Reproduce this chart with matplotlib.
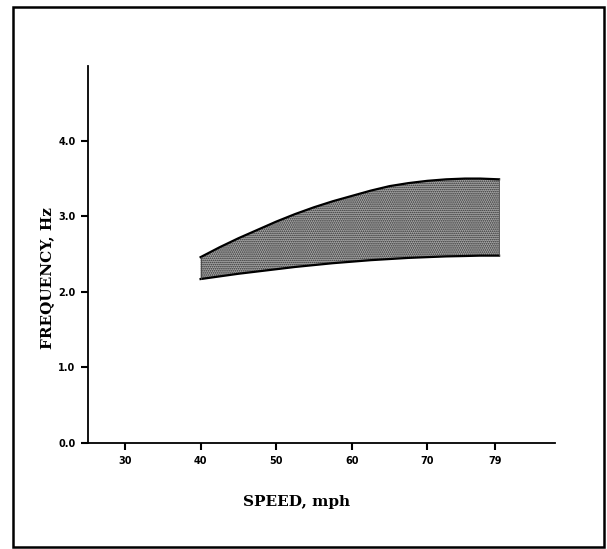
import matplotlib
matplotlib.use("Agg")
import matplotlib.pyplot as plt
from matplotlib.patches import Rectangle

# Band of observed frequency versus speed
speed = [40, 42.5, 45, 47.5, 50, 52.5, 55, 57.5, 60, 62.5, 65, 67.5, 70, 72.5, 75, 77, 79.5]
freq_upper = [2.46, 2.59, 2.71, 2.82, 2.93, 3.03, 3.12, 3.20, 3.27, 3.34, 3.40, 3.44, 3.47, 3.49, 3.50, 3.50, 3.49]
freq_lower = [2.17, 2.205, 2.24, 2.27, 2.30, 2.33, 2.355, 2.38, 2.40, 2.42, 2.435, 2.45, 2.46, 2.47, 2.475, 2.48, 2.48]

x_ticks = [30, 40, 50, 60, 70, 79]
x_tick_labels = ["30", "40", "50", "60", "70", "79"]
y_ticks = [0.0, 1.0, 2.0, 3.0, 4.0]
y_tick_labels = ["0.0", "1.0", "2.0", "3.0", "4.0"]

W, H = 607, 549
fig = plt.figure(figsize=(W / 100, H / 100), dpi=100)
fig.patch.set_facecolor("white")

# Outer frame
fig.patches.append(Rectangle((13 / W, 1 - 547 / H), (604 - 13) / W, (547 - 7) / H,
                             transform=fig.transFigure, fill=False,
                             edgecolor="black", linewidth=1.8))

ax = fig.add_axes([88 / W, 1 - 443 / H, (555 - 88) / W, (443 - 66) / H])
ax.set_xlim(25.1, 86.9)
ax.set_ylim(0.0, 4.99)

plt.rcParams["hatch.color"] = "#2a2a2a"
plt.rcParams["hatch.linewidth"] = 0.8
ax.fill_between(speed, freq_lower, freq_upper, facecolor="#aaaaaa",
                edgecolor="none", hatch="........", linewidth=0)
ax.plot(speed, freq_upper, color="black", linewidth=1.6)
ax.plot(speed, freq_lower, color="black", linewidth=1.6)
ax.plot([speed[0], speed[0]], [freq_lower[0], freq_upper[0]], color="#444444", linewidth=0.6)
ax.plot([speed[-1], speed[-1]], [freq_lower[-1], freq_upper[-1]], color="#444444", linewidth=0.6)

for s in ("top", "right"):
    ax.spines[s].set_visible(False)
for s in ("left", "bottom"):
    ax.spines[s].set_linewidth(1.3)

ax.set_xticks(x_ticks)
ax.set_xticklabels(x_tick_labels)
ax.set_yticks(y_ticks)
ax.set_yticklabels(y_tick_labels)
ax.tick_params(axis="both", direction="out", length=5, width=1.5, labelsize=7, pad=4)
for lbl in ax.get_xticklabels() + ax.get_yticklabels():
    lbl.set_fontweight("bold")
    lbl.set_family("DejaVu Sans")

fig.text(297 / W, 1 - 502 / H, "SPEED, mph", ha="center", va="center",
         fontsize=11, fontweight="bold", family="DejaVu Serif")
fig.text(47 / W, 1 - 278 / H, "FREQUENCY, Hz", ha="center", va="center",
         rotation=90, fontsize=11, fontweight="bold", family="DejaVu Serif")

fig.savefig("out.png", dpi=100, facecolor="white")
